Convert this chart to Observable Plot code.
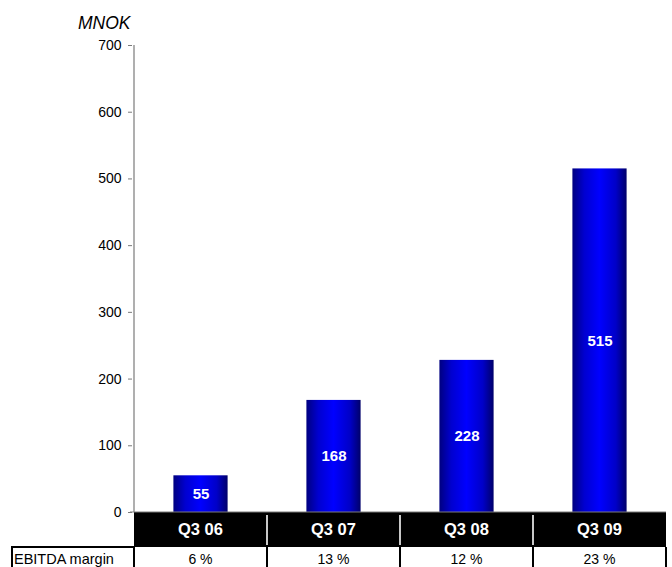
<!DOCTYPE html>
<html>
<head>
<meta charset="utf-8">
<script src="https://cdn.jsdelivr.net/npm/d3@7"></script>
<script src="https://cdn.jsdelivr.net/npm/@observablehq/plot@0.6"></script>
<style>
  body { margin: 0; background: #fff; }
</style>
</head>
<body>
<div id="chart"></div>
<script>
// Quarterly EBITDA (MNOK) with margin row
const quarters = ["Q3 06", "Q3 07", "Q3 08", "Q3 09"];
const ebitda = [55, 168, 228, 515];
const margins = ["6 %", "13 %", "12 %", "23 %"];
const yTicks = [0, 100, 200, 300, 400, 500, 600, 700];
const unitLabel = "MNOK";
const rowLabel = "EBITDA margin";

const rows = quarters.map((q, i) => ({ quarter: q, value: ebitda[i], margin: margins[i] }));
const font = '"Liberation Sans", Arial, Helvetica, sans-serif';

const W = 672, H = 567;
const mLeft = 132, mRight = 5, mTop = 45, mBottom = 55;

const chart = Plot.plot({
  width: W,
  height: H,
  marginLeft: mLeft,
  marginRight: mRight,
  marginTop: mTop,
  marginBottom: mBottom,
  style: { fontFamily: font, fontSize: "14px", color: "#000", background: "#fff", overflow: "visible" },
  x: { domain: quarters, padding: 0, axis: null },
  y: { domain: [0, 700], axis: null },
  marks: [
    Plot.axisY({ ticks: yTicks, tickSize: 4, tickPadding: 7, label: null, stroke: "#7a7a7a", fill: "#000", fontSize: 14 }),
    Plot.barY(rows, { x: "quarter", y: "value", fill: "url(#barGrad)", insetLeft: 39.4, insetRight: 39.4 }),
    Plot.text(rows, {
      x: "quarter",
      y: d => d.value / 2,
      text: d => String(d.value),
      fill: "white",
      fontWeight: "bold",
      fontSize: 15
    })
  ]
});

document.getElementById("chart").appendChild(chart);

const svg = d3.select(chart);
const xs = chart.scale("x");
const ys = chart.scale("y");
const bw = xs.bandwidth;
const x0 = xs.apply(quarters[0]);
const x1 = xs.apply(quarters[quarters.length - 1]) + bw;
const yBase = ys.apply(0);
const bandBottom = yBase + 35;

// cylinder-like horizontal shading for the bars
const defs = svg.insert("defs", ":first-child");
const grad = defs.append("linearGradient").attr("id", "barGrad").attr("x1", "0").attr("x2", "1").attr("y1", "0").attr("y2", "0");
[["0%", "#000080"], ["22%", "#0000d0"], ["50%", "#0000ff"], ["80%", "#0000c8"], ["100%", "#00006a"]]
  .forEach(([o, c]) => grad.append("stop").attr("offset", o).attr("stop-color", c));

// vertical axis line and zero baseline
svg.append("line")
  .attr("x1", x0).attr("x2", x0)
  .attr("y1", ys.apply(700)).attr("y2", yBase)
  .attr("stroke", "#7a7a7a").attr("stroke-width", 1.2);

// black category band
svg.append("rect")
  .attr("x", x0).attr("y", yBase)
  .attr("width", x1 - x0).attr("height", bandBottom - yBase)
  .attr("fill", "#000");
svg.append("line")
  .attr("x1", x0 - 4).attr("x2", x1)
  .attr("y1", yBase).attr("y2", yBase)
  .attr("stroke", "#7a7a7a").attr("stroke-width", 1.2);

quarters.forEach((q, i) => {
  const bx = xs.apply(q);
  if (i > 0) {
    svg.append("line")
      .attr("x1", bx).attr("x2", bx)
      .attr("y1", yBase + 3).attr("y2", bandBottom - 2)
      .attr("stroke", "#c8c8c8").attr("stroke-width", 2);
  }
  svg.append("text")
    .attr("x", bx + bw / 2).attr("y", yBase + 23)
    .attr("text-anchor", "middle")
    .attr("fill", "#fff").attr("font-weight", "bold")
    .attr("font-size", 16.5).attr("font-family", font)
    .text(q);
});

// margin row under the band
const rowTop = bandBottom;
svg.append("rect")
  .attr("x", 12).attr("y", rowTop)
  .attr("width", x0 - 12).attr("height", 40)
  .attr("fill", "none").attr("stroke", "#000").attr("stroke-width", 2);
svg.append("text")
  .attr("x", 14).attr("y", rowTop + 17)
  .attr("text-anchor", "start")
  .attr("font-size", 14.5).attr("font-family", font).attr("fill", "#000")
  .text(rowLabel);

rows.forEach(d => {
  const bx = xs.apply(d.quarter);
  svg.append("line")
    .attr("x1", bx + bw).attr("x2", bx + bw)
    .attr("y1", rowTop).attr("y2", H)
    .attr("stroke", "#000").attr("stroke-width", 2);
  svg.append("text")
    .attr("x", bx + bw / 2).attr("y", rowTop + 17)
    .attr("text-anchor", "middle")
    .attr("font-size", 14).attr("font-family", font).attr("fill", "#000")
    .text(d.margin);
});

// unit label above the axis
svg.append("text")
  .attr("x", 78).attr("y", 29)
  .attr("text-anchor", "start")
  .attr("font-style", "italic")
  .attr("font-size", 17.5).attr("font-family", font).attr("fill", "#000")
  .text(unitLabel);
</script>
</body>
</html>
